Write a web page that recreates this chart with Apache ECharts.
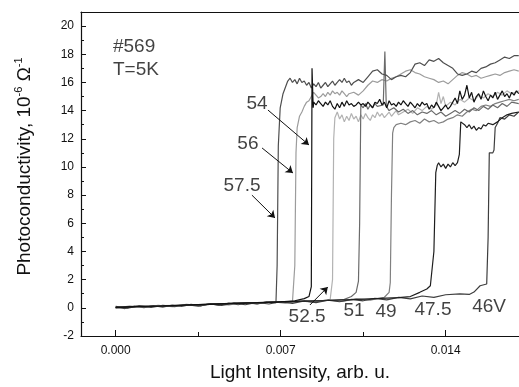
<!DOCTYPE html>
<html>
<head>
<meta charset="utf-8">
<script src="https://cdn.jsdelivr.net/npm/echarts@6/dist/echarts.min.js"></script>
<style>html,body{margin:0;padding:0;background:#fff;}#c{width:519px;height:387px;}</style>
</head>
<body>
<div id="c"></div>
<script>
// ---- data (x: light intensity, arb. u.; y: photoconductivity, 1e-6 1/Ohm) ----
var xTickLabels = [0, 0.007, 0.014];
var xMinorTicks = [0.0035, 0.0105];
var yTickLabels = [-2, 0, 2, 4, 6, 8, 10, 12, 14, 16, 18, 20];
var yMinorTicks = [-1, 1, 3, 5, 7, 9, 11, 13, 15, 17, 19];

var c57_5 = [[0,0.04],[0.0004,-0.05],[0.0008,0.12],[0.0012,0.02],[0.0016,0.16],[0.002,0.05],[0.0024,0.2],[0.0028,0.1],[0.0032,0.25],[0.0036,0.14],[0.004,0.3],[0.0044,0.18],[0.0048,0.34],[0.0052,0.22],[0.0056,0.38],[0.006,0.28],[0.0064,0.42],[0.0068,0.36],
[0.00685,3.0],[0.0069,11.5],[0.00698,14.2],[0.0071,15.2],[0.0073,16.1],[0.0074,16.3],[0.0075,16.0],[0.0076,16.2],[0.0077,15.9],[0.0078,16.3],[0.0079,16.0],[0.0080,16.1],[0.0081,15.8],[0.0082,16.0],[0.0083,15.6],
[0.0084,15.9],[0.0085,15.7],[0.0086,16.0],[0.0087,15.6],[0.0088,15.8],[0.0089,16.0],[0.0090,15.7],[0.0091,15.9],[0.0092,16.1],[0.0093,15.8],[0.0094,16.0],[0.0095,16.2],[0.0096,16.0],[0.0097,16.3],[0.0098,16.0],[0.0099,16.1],[0.0100,15.8],[0.0101,16.0],[0.0103,16.2],[0.0105,16.0],[0.0107,16.4],[0.0109,16.8],[0.0111,16.9],[0.0113,16.6],[0.0115,16.5],[0.0117,16.2],[0.0119,16.4],[0.0121,16.5],[0.0123,16.4],[0.0125,16.7],[0.0127,17.3],[0.0129,17.4],[0.0131,17.2],[0.0133,17.6],[0.0135,17.5],[0.0137,17.7],[0.0139,17.4],[0.0141,17.2],[0.0143,17.0],[0.0145,16.6],[0.0147,16.5],[0.0149,16.6],[0.0151,16.8],[0.0153,16.7],[0.0155,17.0],[0.0157,17.1],[0.0159,17.3],[0.0161,17.4],[0.0163,17.6],[0.0165,17.8],[0.0167,17.7],[0.0169,17.9],[0.0171,17.9]];

var c56 = [[0,0.0],[0.001,0.06],[0.002,0.14],[0.003,0.18],[0.004,0.26],[0.005,0.3],[0.006,0.35],[0.007,0.4],[0.0075,0.44],
[0.0076,3],[0.00765,11],[0.0077,12.8],[0.0078,13.6],[0.0079,13.9],[0.0080,14.3],[0.0081,14.6],[0.0082,14.7],[0.0083,15.0],[0.0084,15.3],[0.0085,15.1],[0.0086,14.9],[0.0087,15.0],[0.0088,15.2],[0.0089,15.0],[0.0090,15.3],[0.0091,15.1],[0.0092,15.4],[0.0093,15.2],[0.0094,15.3],[0.0095,15.1],[0.0096,15.4],[0.0097,15.2],[0.0098,15.0],[0.0099,15.2],[0.0101,15.3],[0.0103,15.1],[0.0105,15.4],[0.0107,15.8],[0.0109,16.1],[0.0111,16.0],[0.0113,16.2],[0.0115,16.1],[0.0117,16.3],[0.0119,16.4],[0.0121,16.6],[0.0123,16.8],[0.0125,16.9],[0.0127,16.7],[0.0129,16.6],[0.0131,16.4],[0.0133,16.3],[0.0135,16.2],[0.0137,16.0],[0.0139,16.1],[0.0141,15.9],[0.0143,16.2],[0.0145,16.5],[0.0147,16.7],[0.0149,16.6],[0.0151,16.4],[0.0153,16.5],[0.0155,16.3],[0.0157,16.4],[0.0159,16.5],[0.0161,16.6],[0.0163,16.5],[0.0165,16.7],[0.0167,16.8],[0.0169,16.9],[0.0171,16.8]];

var c54 = [[0,0.03],[0.001,0.1],[0.002,0.13],[0.003,0.2],[0.004,0.25],[0.005,0.32],[0.006,0.36],[0.007,0.42],[0.0076,0.5],[0.008,0.65],[0.0082,0.8],
[0.0083,1.5],[0.00833,17.0],[0.00838,14.2],[0.0084,14.6],[0.0085,14.4],[0.0086,14.7],[0.0087,14.5],[0.0088,14.3],[0.0089,14.6],[0.0090,14.4],[0.0091,14.7],[0.0092,14.3],[0.0093,14.1],[0.0094,14.5],[0.0095,14.2],[0.0096,14.6],[0.0097,14.3],[0.0098,14.7],[0.0099,14.4],[0.0100,14.5],[0.0101,14.3],[0.0102,14.4],[0.0103,14.6],[0.0104,14.4],[0.0105,14.5],[0.0106,14.3],[0.0107,14.6],[0.0108,14.4],[0.0109,14.2],[0.0110,14.6],[0.0111,14.5],[0.0112,14.8],[0.0113,14.4],[0.0114,14.6],[0.0115,14.2],[0.0116,14.7],[0.0117,14.4],[0.0118,14.5],[0.0119,14.3],[0.0120,14.6],[0.0121,14.4],[0.0122,14.7],[0.0123,14.5],[0.0124,14.3],[0.0125,14.6],[0.0126,14.4],[0.0127,14.2],[0.0128,14.5],[0.0129,14.3],[0.0130,14.6],[0.0131,14.4],[0.0132,14.5],[0.0133,14.1],[0.0134,14.4],[0.0135,14.2],[0.0136,14.6],[0.0137,14.3],[0.0138,14.0],[0.0139,14.2],[0.0140,14.4],[0.0141,14.1],[0.0142,14.3],[0.0143,14.6],[0.0144,14.9],[0.0145,14.5],[0.0146,15.4],[0.0147,14.8],[0.0148,15.1],[0.0149,15.8],[0.0150,14.9],[0.0151,15.3],[0.0152,14.6],[0.0153,15.0],[0.0154,15.2],[0.0155,14.8],[0.0156,15.4],[0.0157,15.0],[0.0158,14.7],[0.0159,15.1],[0.0160,14.9],[0.0161,15.3],[0.0162,14.8],[0.0163,15.1],[0.0164,15.4],[0.0165,15.0],[0.0166,15.2],[0.0167,14.9],[0.0168,15.3],[0.0169,15.1],[0.0170,15.4],[0.0171,15.2]];

var c52_5 = [[0,0.05],[0.001,0.08],[0.002,0.16],[0.003,0.19],[0.004,0.27],[0.005,0.31],[0.006,0.37],[0.007,0.41],[0.008,0.47],[0.0088,0.52],[0.0091,0.6],
[0.0092,2.0],[0.00925,12.0],[0.0093,13.5],[0.0094,13.9],[0.0095,13.4],[0.0096,13.7],[0.0097,13.2],[0.0098,13.6],[0.0099,13.3],[0.0100,13.8],[0.0101,13.4],[0.0102,13.6],[0.0103,13.2],[0.0104,13.7],[0.0105,13.4],[0.0106,13.8],[0.0107,13.5],[0.0108,13.3],[0.0109,13.7],[0.0110,13.5],[0.0111,13.9],[0.0112,13.6],[0.0113,13.8],[0.0114,13.5],[0.0115,13.7],[0.0116,13.9],[0.0117,13.6],[0.0118,13.8],[0.0119,14.0],[0.0120,13.7],[0.0122,13.9],[0.0124,14.1],[0.0126,13.8],[0.0128,14.2],[0.0130,14.0],[0.0132,14.3],[0.0134,14.1],[0.0136,14.4],[0.0137,15.3],[0.0138,14.5],[0.0139,15.0],[0.0140,14.3],[0.0142,14.6],[0.0144,14.4],[0.0146,14.8],[0.0148,14.6],[0.0150,14.9],[0.0152,14.7],[0.0154,15.1],[0.0156,14.9],[0.0158,15.2],[0.0160,15.0],[0.0162,15.3],[0.0164,15.1],[0.0166,15.4],[0.0168,15.2],[0.0171,15.4]];

var c51 = [[0,0.02],[0.001,0.09],[0.002,0.12],[0.003,0.21],[0.004,0.24],[0.005,0.33],[0.006,0.35],[0.007,0.43],[0.008,0.46],[0.009,0.53],[0.0097,0.6],[0.0100,0.8],[0.0102,1.1],[0.0103,1.9],
[0.01035,6],[0.0104,14.4],[0.0105,14.2],[0.0106,14.5],[0.0107,14.1],[0.0108,14.4],[0.0109,14.2],[0.0110,14.5],[0.0111,14.3],[0.01135,14.4],[0.01142,18.2],[0.01148,14.3],[0.0116,14.0],[0.0118,14.2],[0.0120,13.9],[0.0122,14.1],[0.0124,13.8],[0.0126,14.0],[0.0128,13.7],[0.0130,13.9],[0.0132,13.8],[0.0134,14.0],[0.0136,13.7],[0.0138,13.9],[0.0140,13.6],[0.0142,13.8],[0.0144,14.0],[0.0146,13.8],[0.0148,14.1],[0.0150,13.9],[0.0152,14.2],[0.0154,14.0],[0.0156,14.3],[0.0158,14.1],[0.0160,14.4],[0.0162,14.2],[0.0164,14.5],[0.0166,14.3],[0.0168,14.6],[0.0171,14.5]];

var c49 = [[0,0.0],[0.0006,0.12],[0.0012,0.04],[0.0018,0.17],[0.0024,0.09],[0.003,0.24],[0.0036,0.15],[0.0042,0.3],[0.0048,0.2],[0.0054,0.36],[0.006,0.27],[0.0066,0.43],[0.0072,0.33],[0.0078,0.49],[0.0084,0.4],[0.009,0.56],[0.0096,0.46],[0.0102,0.63],[0.0108,0.55],[0.0114,0.75],[0.0116,1.1],[0.01165,1.8],
[0.0117,8],[0.01175,12.4],[0.0118,12.8],[0.0119,13.0],[0.0121,13.1],[0.0123,13.0],[0.0125,13.2],[0.0127,13.3],[0.0129,13.1],[0.0131,13.4],[0.0133,13.2],[0.0135,13.3],[0.0137,13.1],[0.0139,13.2],[0.0141,13.4],[0.0143,13.5],[0.0145,13.7],[0.0147,13.6],[0.0149,13.9],[0.0151,14.1],[0.0153,14.0],[0.0155,14.3],[0.0157,14.4],[0.0159,14.3],[0.0161,14.5],[0.0163,14.6],[0.0165,14.7],[0.0167,14.8],[0.0169,14.7],[0.0171,14.8]];

var c47_5 = [[0,0.01],[0.001,0.1],[0.002,0.13],[0.003,0.2],[0.004,0.26],[0.005,0.31],[0.006,0.37],[0.007,0.42],[0.008,0.47],[0.009,0.52],[0.010,0.58],[0.011,0.65],[0.012,0.72],[0.0125,0.8],[0.0129,1.1],[0.0132,1.34],[0.01335,1.57],
[0.0135,4],[0.01358,9.6],[0.01364,10.1],[0.0137,10.3],[0.0138,10.0],[0.0139,10.2],[0.0140,9.9],[0.0141,10.2],[0.0142,10.0],[0.0143,10.3],[0.0144,10.1],[0.0145,10.3],[0.01458,10.9],[0.01464,13.2],[0.0148,13.0],[0.0149,12.8],[0.0150,13.0],[0.0151,12.7],[0.0152,12.9],[0.0153,12.6],[0.0154,12.8],[0.0155,12.7],[0.0156,13.0],[0.0157,12.9],[0.0158,13.1],[0.0160,13.0],[0.0162,13.2],[0.0164,13.5],[0.0166,13.7],[0.0168,13.8],[0.0171,13.9]];

var c46 = [[0,0.1],[0.0005,-0.02],[0.001,0.14],[0.0015,0.03],[0.002,0.18],[0.0025,0.08],[0.003,0.22],[0.0035,0.12],[0.004,0.28],[0.0045,0.17],[0.005,0.33],[0.0055,0.22],[0.006,0.38],[0.0065,0.27],[0.007,0.44],[0.0075,0.32],[0.008,0.49],[0.0085,0.37],[0.009,0.54],[0.0095,0.43],[0.010,0.6],[0.0105,0.5],[0.011,0.67],[0.0115,0.56],[0.012,0.74],[0.0125,0.64],[0.013,0.84],[0.0135,0.74],[0.014,0.93],[0.0146,0.99],[0.015,0.95],[0.0152,1.12],[0.01546,1.57],[0.01574,1.69],
[0.0158,5],[0.01585,11.0],[0.0159,11.1],[0.0160,11.0],[0.01605,11.2],[0.0161,12.8],[0.0162,13.1],[0.0163,13.5],[0.0165,13.4],[0.0167,13.7],[0.0169,13.6],[0.0171,13.9]];

// annotation texts [x, y, text]
var voltLabels = [[0.005995,14.47,'54'],[0.00561,11.64,'56'],[0.00536,8.65,'57.5'],[0.00812,-0.65,'52.5'],[0.01011,-0.23,'51'],[0.01147,-0.30,'49'],[0.01346,-0.16,'47.5'],[0.01584,0.06,'46V']];
var sampleLabels = [[-0.000115,18.51,'#569'],[-0.000115,16.88,'T=5K']];
// arrows [[x1,y1],[x2,y2]]
var arrows = [[[0.00646,14.04],[0.0082,11.56]],[[0.00621,11.35],[0.00752,9.57]],[[0.00578,8.0],[0.00676,6.38]],[[0.00824,0.2],[0.009,1.48]]];

var FONT = 'Liberation Sans, Arial, sans-serif';
var curves = [
  {name:'52.5', d:c52_5, c:'#b2b2b2'},
  {name:'56', d:c56, c:'#9c9c9c'},
  {name:'49', d:c49, c:'#808080'},
  {name:'51', d:c51, c:'#6a6a6a'},
  {name:'57.5', d:c57_5, c:'#4e4e4e'},
  {name:'46', d:c46, c:'#3e3e3e'},
  {name:'47.5', d:c47_5, c:'#1e1e1e'},
  {name:'54', d:c54, c:'#111111'}
];

var series = curves.map(function(s){
  return {type:'line', name:s.name, data:s.d, showSymbol:false, symbol:'none',
    lineStyle:{color:s.c, width:1.2}, itemStyle:{color:s.c}, silent:true, animation:false};
});
series.push({
  type:'scatter', data:voltLabels, symbolSize:0, silent:true, animation:false, z:5,
  label:{show:true, position:'inside', formatter:function(p){return p.value[2];}, fontFamily:FONT, fontSize:19, color:'#111'},
  markLine:{silent:true, animation:false, symbol:['none','arrow'], symbolSize:7,
    lineStyle:{color:'#111', width:1, type:'solid'}, label:{show:false},
    data: arrows.map(function(a){return [{coord:a[0]},{coord:a[1]}];})}
});
series.push({
  type:'scatter', data:sampleLabels, symbolSize:0, silent:true, animation:false,
  label:{show:true, position:'right', distance:0, formatter:function(p){return p.value[2];}, fontFamily:FONT, fontSize:19, color:'#111'}
});

var chart = echarts.init(document.getElementById('c'), null, {renderer:'canvas'});
chart.setOption({
  backgroundColor:'#fff',
  animation:false,
  grid:{left:81, top:12, right:0, bottom:51, containLabel:false},
  xAxis:[
    {type:'value', position:'bottom', min:-0.00147, max:0.01711,
      name:'Light Intensity, arb. u.', nameLocation:'middle', nameGap:27,
      nameTextStyle:{fontFamily:FONT, fontSize:19, color:'#111'},
      axisLine:{show:true, onZero:false, lineStyle:{color:'#111', width:1.2}},
      axisTick:{show:true, inside:true, length:6, customValues:xTickLabels, lineStyle:{color:'#111'}},
      axisLabel:{show:true, customValues:xTickLabels, margin:9, fontFamily:FONT, fontSize:12, color:'#111',
        formatter:function(v){return v.toFixed(3);}},
      splitLine:{show:false}},
    {type:'value', position:'bottom', min:-0.00147, max:0.01711,
      axisLine:{show:false, onZero:false},
      axisTick:{show:true, inside:true, length:4, customValues:xMinorTicks, lineStyle:{color:'#111'}},
      axisLabel:{show:false}, splitLine:{show:false}},
    {type:'value', position:'top', min:-0.00147, max:0.01711,
      axisLine:{show:true, onZero:false, lineStyle:{color:'#111', width:1.2}},
      axisTick:{show:false}, axisLabel:{show:false}, splitLine:{show:false}}
  ],
  yAxis:[
    {type:'value', position:'left', min:-2, max:21, interval:2,
      name:'{a|Photoconductivity, 10}{s|-6}{a| Ω}{s|-1}', nameLocation:'middle', nameGap:44, nameRotate:90,
      nameTextStyle:{fontFamily:FONT, fontSize:19, color:'#111', padding:[0,0,0,15],
        rich:{a:{fontFamily:FONT, fontSize:19, color:'#111', lineHeight:24},
              s:{fontFamily:FONT, fontSize:11, color:'#111', verticalAlign:'top', lineHeight:12}}},
      axisLine:{show:true, onZero:false, lineStyle:{color:'#111', width:1.2}},
      axisTick:{show:true, inside:true, length:5, customValues:yTickLabels, lineStyle:{color:'#111'}},
      axisLabel:{show:true, customValues:yTickLabels, margin:7, fontFamily:FONT, fontSize:12, color:'#111'},
      splitLine:{show:false}},
    {type:'value', position:'left', min:-2, max:21,
      axisLine:{show:false, onZero:false},
      axisTick:{show:true, inside:true, length:3, customValues:yMinorTicks, lineStyle:{color:'#111'}},
      axisLabel:{show:false}, splitLine:{show:false}}
  ],
  series: series
});
</script>
</body>
</html>
